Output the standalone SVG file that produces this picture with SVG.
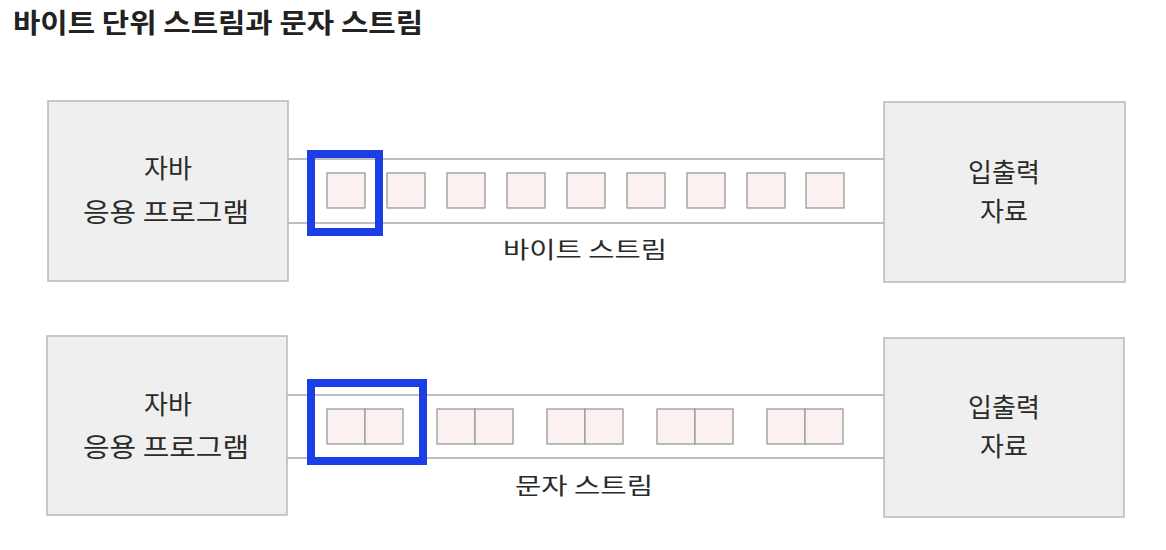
<svg xmlns="http://www.w3.org/2000/svg" width="1166" height="550" viewBox="0 0 1166 550">
<style>
.box{fill:#efefef;stroke:#b9b9b9;stroke-width:1.5}
.pipe{stroke:#a8a8a8;stroke-width:1.5;fill:none}
.cell{fill:#fbf1f1;stroke:#9a9a9a;stroke-width:1.3}
.sel{fill:none;stroke:#1c3ee6;stroke-width:8}
.t{font-family:"Noto Sans CJK KR","Noto Sans",sans-serif;font-weight:normal;fill:#2a2a2a;text-anchor:middle}
.lbl{font-size:26px}
.cap{font-size:23px}
.title{font-family:"Noto Sans CJK KR","Noto Sans",sans-serif;font-weight:bold;font-size:27px;fill:#222}
</style>
<rect width="1166" height="550" fill="#ffffff"/>
<text class="title" x="13" y="33" textLength="410" lengthAdjust="spacingAndGlyphs">바이트 단위 스트림과 문자 스트림</text>

<g id="connectors">
  <line class="pipe" x1="288" y1="159" x2="884" y2="159"/>
  <line class="pipe" x1="288" y1="223" x2="884" y2="223"/>
  <line class="pipe" x1="287" y1="395" x2="884" y2="395"/>
  <line class="pipe" x1="287" y1="458" x2="884" y2="458"/>
</g>

<g id="app1">
  <rect class="box" x="48" y="101" width="240" height="180"/>
  <text class="t lbl" x="168" y="178">자바</text>
  <text class="t lbl" x="166" y="222" textLength="166" lengthAdjust="spacingAndGlyphs">응용 프로그램</text>
</g>
<g id="io1">
  <rect class="box" x="884" y="102" width="241" height="180"/>
  <text class="t lbl" x="1004" y="182">입출력</text>
  <text class="t lbl" x="1004" y="221">자료</text>
</g>
<g id="bytestream">
  <rect class="cell" x="327" y="173" width="38" height="35"/>
  <rect class="cell" x="387" y="173" width="38" height="35"/>
  <rect class="cell" x="447" y="173" width="38" height="35"/>
  <rect class="cell" x="507" y="173" width="38" height="35"/>
  <rect class="cell" x="567" y="173" width="38" height="35"/>
  <rect class="cell" x="627" y="173" width="38" height="35"/>
  <rect class="cell" x="687" y="173" width="38" height="35"/>
  <rect class="cell" x="747" y="173" width="38" height="35"/>
  <rect class="cell" x="806" y="173" width="38" height="35"/>
  <rect class="sel" x="311" y="154" width="68" height="78"/>
  <text class="t cap" x="585" y="258" textLength="164" lengthAdjust="spacingAndGlyphs">바이트 스트림</text>
</g>

<g id="app2">
  <rect class="box" x="47" y="336" width="240" height="179"/>
  <text class="t lbl" x="168" y="414">자바</text>
  <text class="t lbl" x="166" y="457" textLength="166" lengthAdjust="spacingAndGlyphs">응용 프로그램</text>
</g>
<g id="io2">
  <rect class="box" x="884" y="338" width="240" height="179"/>
  <text class="t lbl" x="1004" y="417">입출력</text>
  <text class="t lbl" x="1004" y="456">자료</text>
</g>
<g id="charstream">
  <rect class="cell" x="327" y="409" width="38" height="35"/><rect class="cell" x="365" y="409" width="38" height="35"/>
  <rect class="cell" x="437" y="409" width="38" height="35"/><rect class="cell" x="475" y="409" width="38" height="35"/>
  <rect class="cell" x="547" y="409" width="38" height="35"/><rect class="cell" x="585" y="409" width="38" height="35"/>
  <rect class="cell" x="657" y="409" width="38" height="35"/><rect class="cell" x="695" y="409" width="38" height="35"/>
  <rect class="cell" x="767" y="409" width="38" height="35"/><rect class="cell" x="805" y="409" width="38" height="35"/>
  <rect class="sel" x="311" y="383" width="112" height="78"/>
  <text class="t cap" x="584" y="494" textLength="138" lengthAdjust="spacingAndGlyphs">문자 스트림</text>
</g>
</svg>
